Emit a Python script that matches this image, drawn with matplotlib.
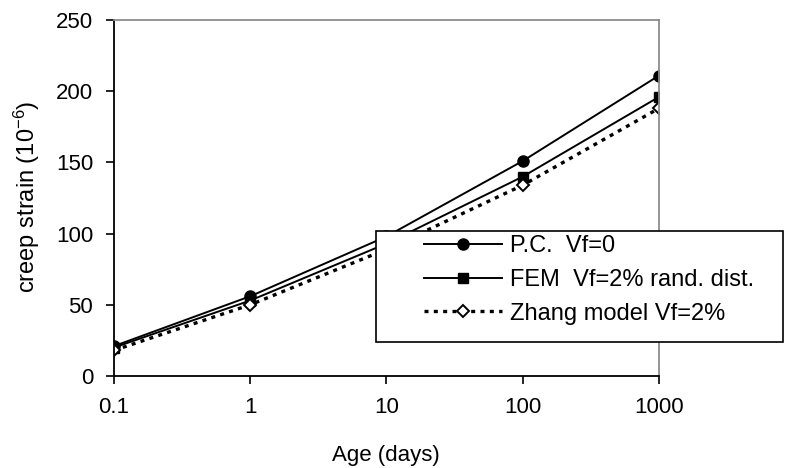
import numpy as np
import matplotlib
matplotlib.use("Agg")
import matplotlib.pyplot as plt
from matplotlib.patches import Rectangle

plt.rcParams["font.family"] = ["Liberation Sans", "DejaVu Sans"]
plt.rcParams["mathtext.fontset"] = "custom"
plt.rcParams["mathtext.rm"] = "Liberation Sans"
plt.rcParams["mathtext.it"] = "Liberation Sans"

# ---------- data ----------
age_days = [0.1, 1, 10, 100, 1000]
pc_vf0 = [21, 56, 98, 151, 211]
fem_vf2 = [20, 53, 93, 140, 196]
zhang_vf2 = [18, 50, 89, 134, 188]

x_ticks = [0.1, 1, 10, 100, 1000]
x_ticklabels = ["0.1", "1", "10", "100", "1000"]
y_ticks = [0, 50, 100, 150, 200, 250]

W, H = 785, 468
fig = plt.figure(figsize=(W / 100, H / 100), dpi=100)
ax = fig.add_axes([114 / W, 1 - 376 / H, (659 - 114) / W, (376 - 20) / H])

ax.plot(age_days, pc_vf0, "-", color="black", lw=1.4, marker="o", ms=8,
        label="P.C.  Vf=0")
ax.plot(age_days, fem_vf2, "-", color="black", lw=1.4, marker="s", ms=7.2,
        label="FEM  Vf=2% rand. dist.")
ax.plot(age_days, zhang_vf2, color="black", lw=2.4, ls=(0, (1.2, 1.6)),
        marker="D", ms=6.5, mfc="white", mec="black", mew=1.4,
        label="Zhang model Vf=2%")

ax.set_xscale("log")
ax.set_xlim(0.1, 1000)
ax.set_ylim(0, 250)
ax.set_xticks(x_ticks)
ax.set_xticklabels(x_ticklabels)
ax.xaxis.set_minor_locator(matplotlib.ticker.NullLocator())
ax.set_yticks(y_ticks)
ax.tick_params(axis="both", direction="out", length=6, width=1.2,
               labelsize=16, color="black")
ax.tick_params(axis="y", pad=9)
ax.tick_params(axis="x", pad=9)

for side in ["left", "bottom"]:
    ax.spines[side].set_color("black")
    ax.spines[side].set_linewidth(1.3)
for side in ["top", "right"]:
    ax.spines[side].set_color("#8c8c8c")
    ax.spines[side].set_linewidth(1.3)

fig.text(27 / W, 1 - 197 / H, "creep strain (10$^{-6}$)", rotation=90,
         ha="center", va="center", fontsize=17)
fig.text(386 / W, 1 - 455 / H, "Age (days)", ha="center", va="center",
         fontsize=16)

# legend box sticking out past the plot area
box = Rectangle((376 / W, 1 - 342 / H), (783 - 376) / W, (342 - 231) / H,
                transform=fig.transFigure, facecolor="white",
                edgecolor="black", lw=1.2, zorder=4)
fig.add_artist(box)
leg = fig.legend(loc="upper left", bbox_to_anchor=(424 / W, 1 - 235 / H),
                 frameon=False, fontsize=17, handlelength=3.3,
                 handletextpad=0.35, borderpad=0, labelspacing=0.5,
                 borderaxespad=0)
leg.set_zorder(6)

fig.savefig("out.png", dpi=100)
